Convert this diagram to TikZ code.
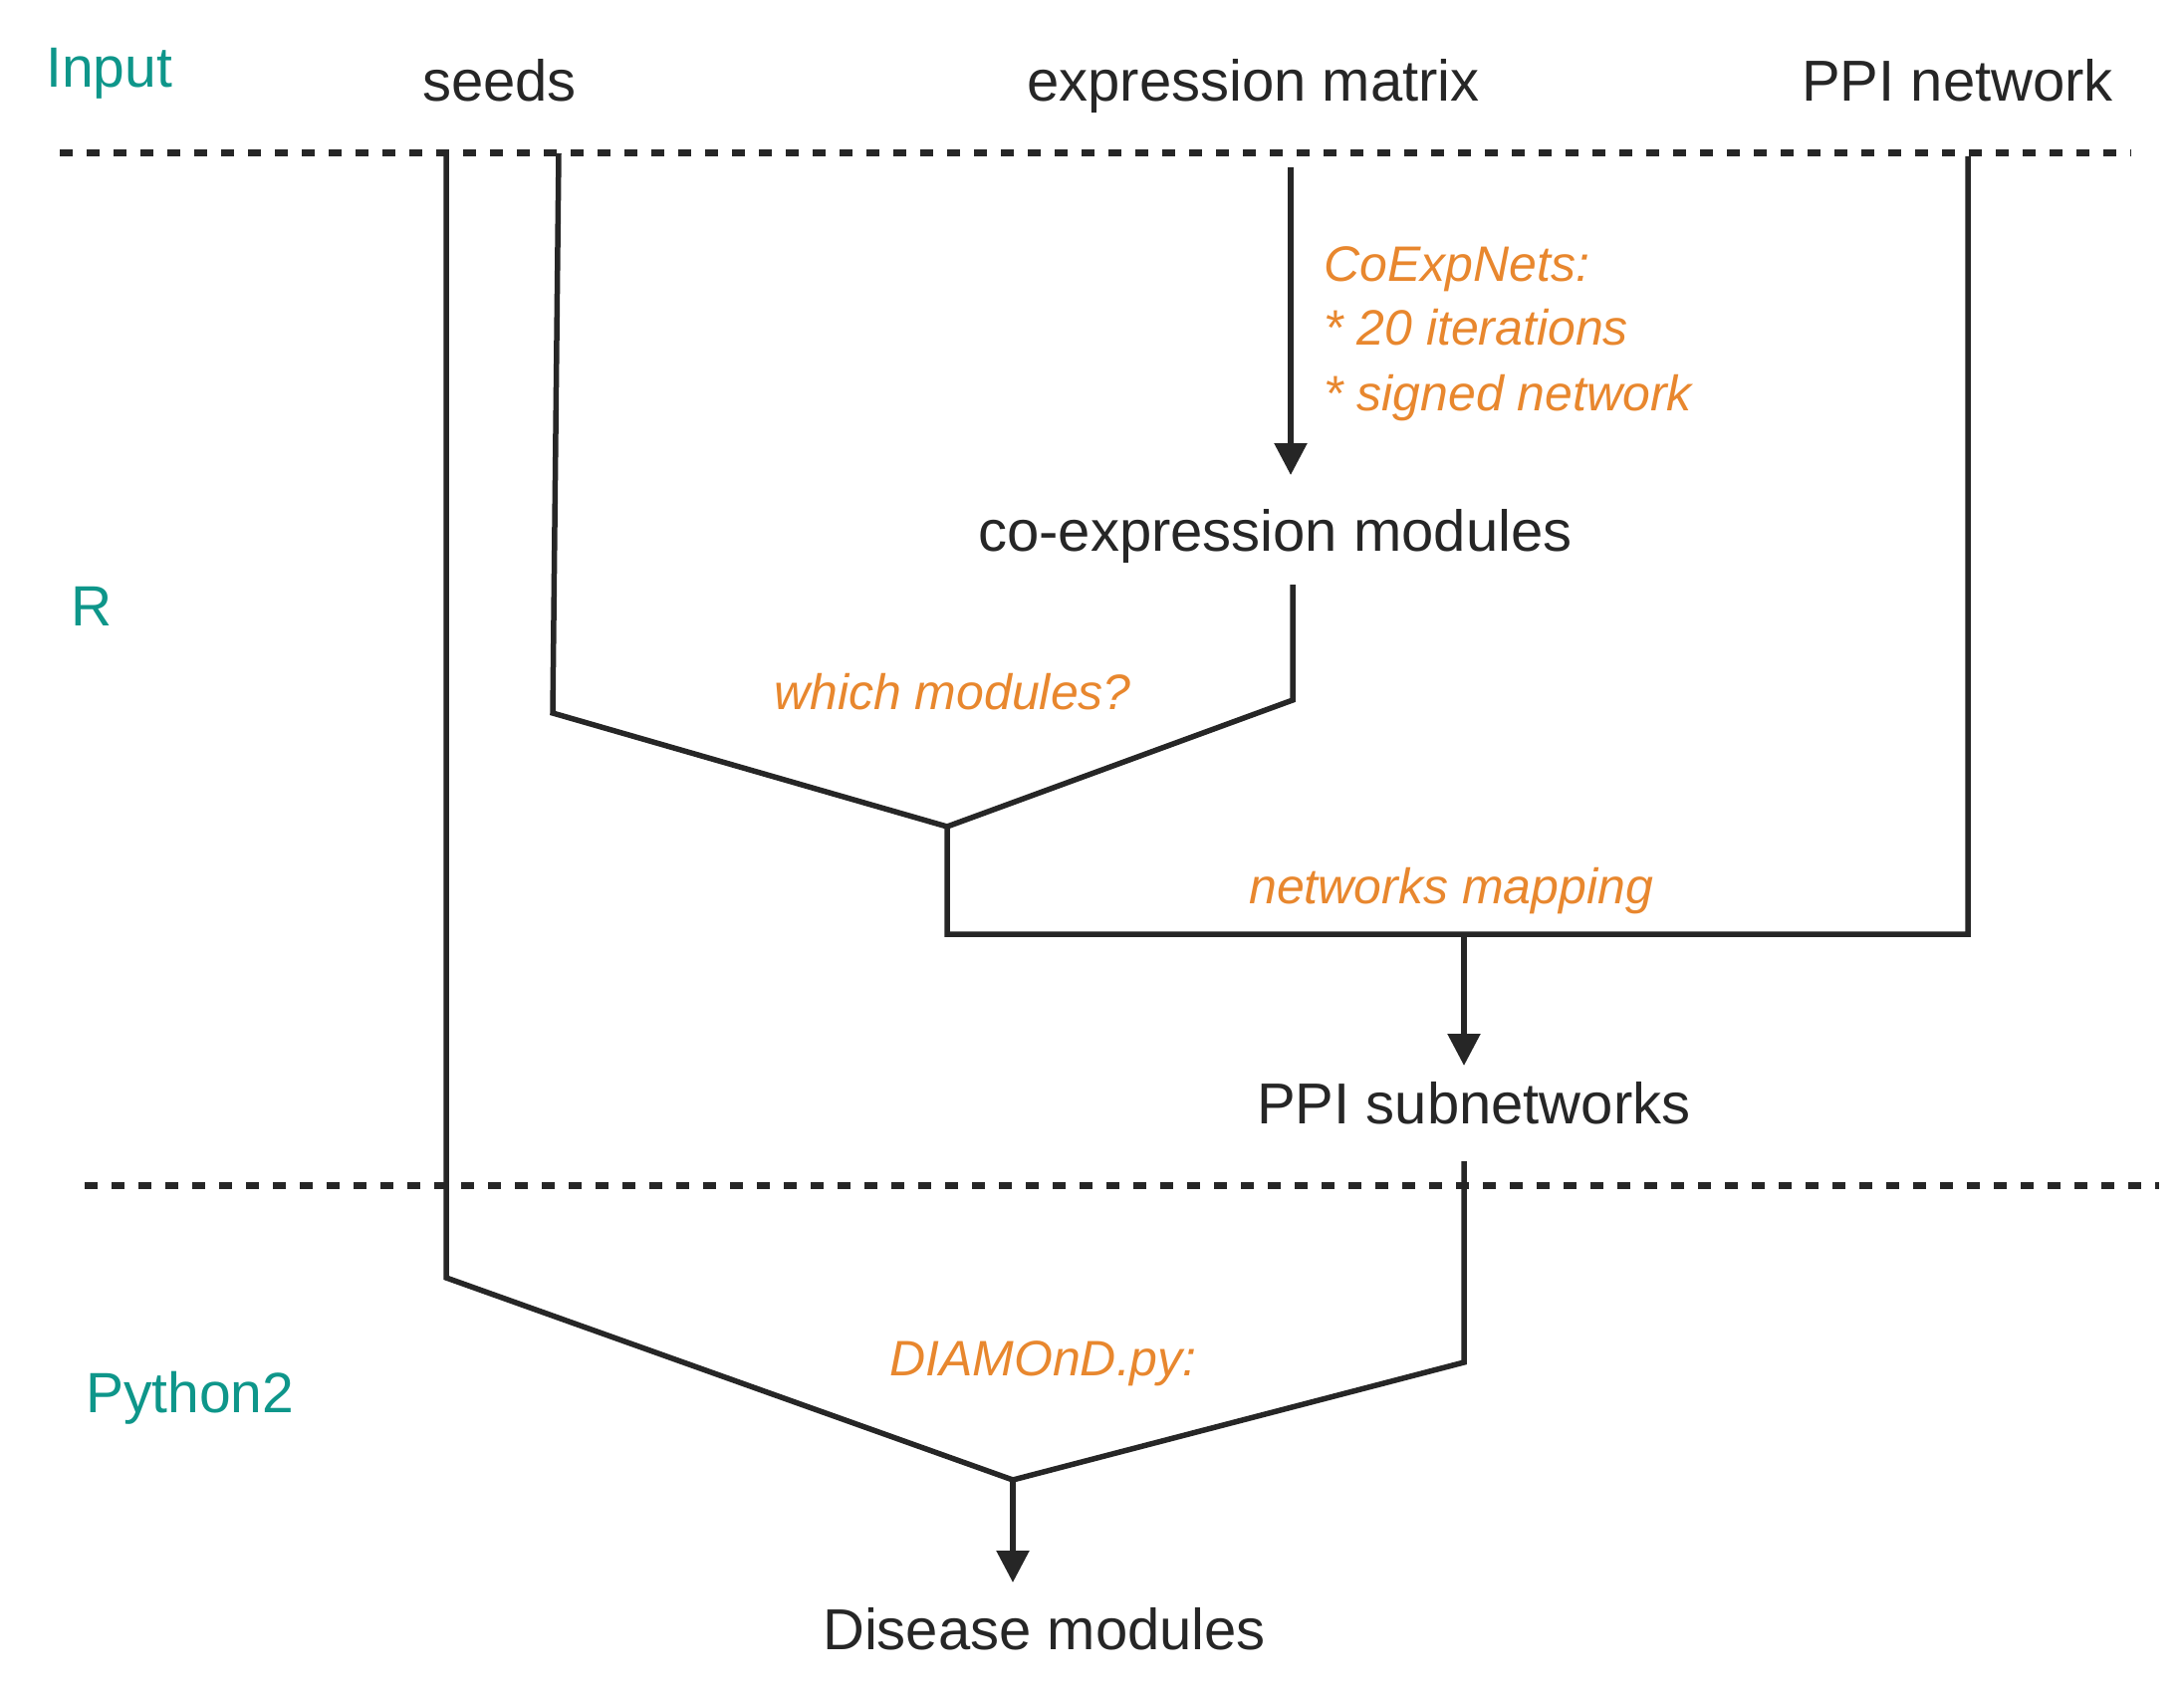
\documentclass[tikz,border=0pt]{standalone}
\usepackage{fontspec}
\setmainfont{Liberation Sans}
\usetikzlibrary{arrows.meta}
\definecolor{ink}{HTML}{262626}
\definecolor{tealc}{HTML}{0E968A}
\definecolor{orng}{HTML}{E8872E}
\begin{document}
\begin{tikzpicture}[x=1pt,y=-1pt,
  lbl/.style={inner sep=0pt,anchor=base west,text=ink,font=\fontsize{58}{70}\selectfont},
  stage/.style={inner sep=0pt,anchor=base west,text=tealc,font=\fontsize{57}{68}\selectfont},
  note/.style={inner sep=0pt,anchor=base west,text=orng,font=\fontsize{50}{60}\selectfont\itshape},
  link/.style={draw=ink,line width=5.5pt},
  flow/.style={link,-{Triangle[width=32pt,length=32pt]}},
  sep/.style={draw=ink,line width=7pt,dash pattern=on 13pt off 14pt}]
\path[use as bounding box] (0,0) rectangle (2193,1704);

% stage labels
\node[stage] (sInput) at (46,88) {Input};
\node[stage] (sR) at (71,628) {R};
\node[stage] (sPy) at (86,1418) {Python2};

% data labels
\node[lbl] (seeds) at (424,102) {seeds};
\node[lbl] (expr) at (1031,102) {expression matrix};
\node[lbl] (ppi) at (1809,102) {PPI network};
\node[lbl] (coexp) at (982,553) {co-expression modules};
\node[lbl] (sub) at (1262,1128) {PPI subnetworks};
\node[lbl] (dis) at (826,1656) {Disease modules};

% method notes
\node[note] (c1) at (1329,283) {CoExpNets:};
\node[note] (c2) at (1329,347) {* 20 iterations};
\node[note] (c3) at (1329,412) {* signed network};
\node[note] (which) at (777,712) {which modules?};
\node[note] (map) at (1254,907) {networks mapping};
\node[note] (diam) at (893,1381) {DIAMOnD.py:};

% separators
\coordinate (d1a) at (60,154);
\coordinate (d1b) at (2140,154);
\coordinate (d2a) at (85,1190);
\coordinate (d2b) at (2168,1190);
\draw[sep] (d1a) -- (d1b);
\draw[sep] (d2a) -- (d2b);

% coordinates
\coordinate (sA0) at (448,154);
\coordinate (sA1) at (448,1283);
\coordinate (sB0) at (561,154);
\coordinate (sB1) at (555,716);
\coordinate (j1) at (951,830);
\coordinate (j1b) at (951,938);
\coordinate (p1) at (1976,938);
\coordinate (p0) at (1976,157);
\coordinate (e0) at (1296,168);
\coordinate (e1) at (1296,477);
\coordinate (m0) at (1298,587);
\coordinate (m1) at (1298,703);
\coordinate (s0) at (1470,938);
\coordinate (s1) at (1470,1070);
\coordinate (u0) at (1470,1166);
\coordinate (u1) at (1470,1368);
\coordinate (j2) at (1017,1486);
\coordinate (j2b) at (1017,1589);

% connectors
\draw[flow] (e0) -- (e1);
\draw[link] (m0) -- (m1) -- (j1);
\draw[link] (sB0) -- (sB1) -- (j1) -- (j1b) -- (p1) -- (p0);
\draw[flow] (s0) -- (s1);
\draw[link] (sA0) -- (sA1) -- (j2);
\draw[link] (u0) -- (u1) -- (j2);
\draw[flow] (j2) -- (j2b);
\end{tikzpicture}
\end{document}
